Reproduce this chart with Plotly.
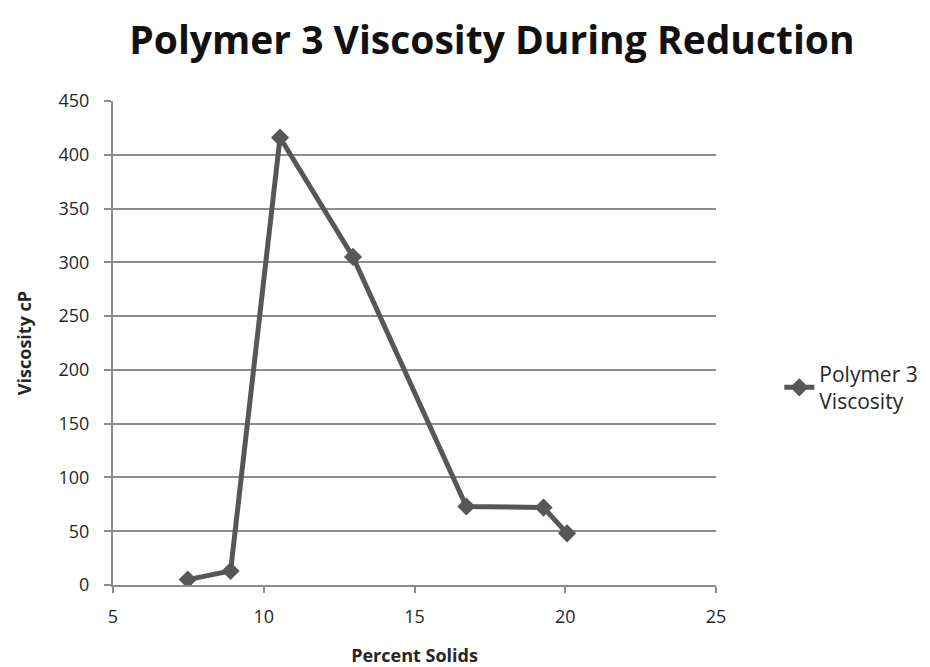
import plotly.graph_objects as go

percent_solids = [7.48, 8.9, 10.54, 12.96, 16.72, 19.28, 20.06]
viscosity_cp = [5, 13, 416, 305, 73, 72, 48]
x_ticks = [5, 10, 15, 20, 25]
y_ticks = [0, 50, 100, 150, 200, 250, 300, 350, 400, 450]

font_family = "Open Sans, Liberation Sans, sans-serif"
line_color = "#575757"
grid_color = "#8c8c8c"
text_color = "#262626"

fig = go.Figure()
fig.add_trace(go.Scatter(
    x=percent_solids, y=viscosity_cp,
    mode="lines+markers",
    name="Polymer 3<br>Viscosity",
    line=dict(color=line_color, width=5),
    marker=dict(symbol="diamond", size=14, color=line_color),
))

fig.update_layout(
    width=930, height=667,
    paper_bgcolor="white", plot_bgcolor="white",
    margin=dict(l=113, r=214, t=101, b=82, autoexpand=False),
    title=dict(
        text="<b>Polymer 3 Viscosity During Reduction</b>",
        x=0.529, xanchor="center", y=0.94, yanchor="middle",
        font=dict(family=font_family, size=39, color="#111111"),
    ),
    font=dict(family=font_family, color=text_color),
    showlegend=True,
    legend=dict(
        x=1.105, xanchor="left", y=0.408, yanchor="middle",
        font=dict(family=font_family, size=21, color=text_color),
        bgcolor="rgba(0,0,0,0)",
    ),
    xaxis=dict(
        range=[5, 25], tickvals=x_ticks,
        showgrid=False, zeroline=False,
        showline=True, linecolor=grid_color, linewidth=2,
        ticks="outside", ticklen=6, tickcolor=grid_color, tickwidth=2,
        ticklabelstandoff=8,
        tickfont=dict(size=18, color=text_color),
        automargin=False,
        title=dict(text="<b>Percent Solids</b>", font=dict(size=18, color=text_color), standoff=24),
    ),
    yaxis=dict(
        range=[0, 450], tickvals=y_ticks,
        showgrid=True, gridcolor=grid_color, gridwidth=1.5,
        zeroline=False,
        showline=True, linecolor=grid_color, linewidth=2,
        ticks="outside", ticklen=7, tickcolor=grid_color, tickwidth=2,
        ticklabelstandoff=11,
        tickfont=dict(size=18, color=text_color),
        automargin=False,
        title=dict(text="<b>Viscosity cP</b>", font=dict(size=18, color=text_color), standoff=22),
    ),
)

fig.write_html(
    "out.html",
    config={"displayModeBar": False},
    post_script="document.body.style.margin='0';document.body.style.padding='0';",
)
